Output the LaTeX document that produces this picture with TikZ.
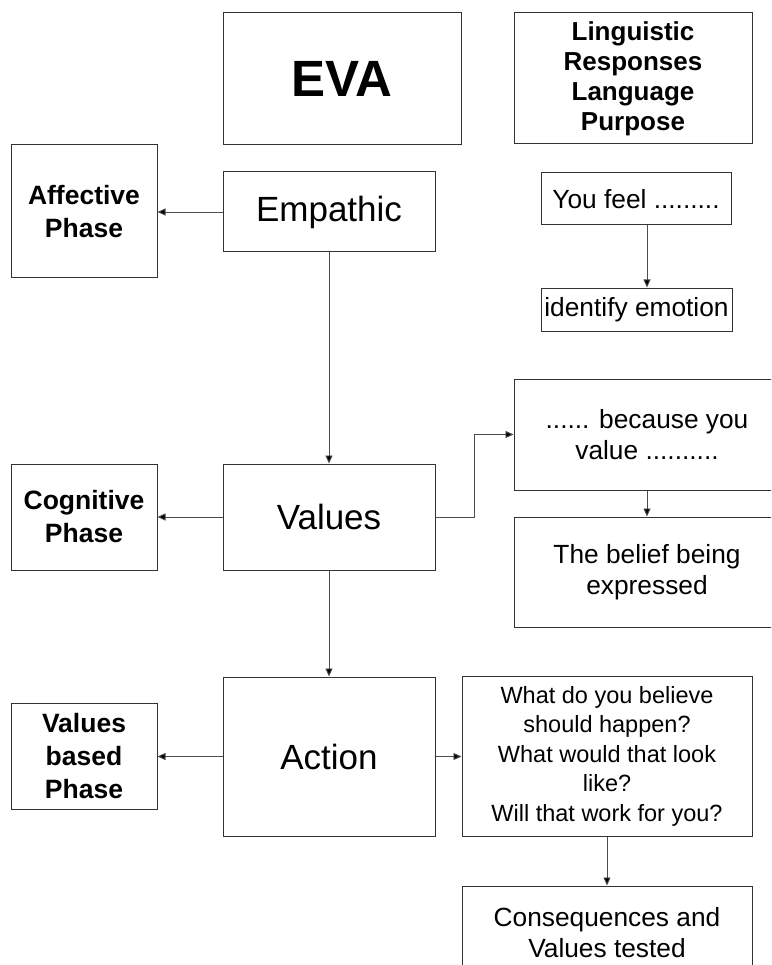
\documentclass[tikz,border=0pt]{standalone}
\usepackage{fontspec}
\setmainfont{Liberation Sans}
\usetikzlibrary{arrows.meta}
\tikzset{
  box/.style={draw=black!80, line width=1pt, inner sep=0pt, align=center, anchor=center},
  phase/.style={box, font=\fontsize{26.5}{33}\selectfont\bfseries, minimum width=146pt},
  big/.style={box, font=\fontsize{35}{40}\selectfont, minimum width=212pt},
  txt/.style={box, font=\fontsize{26.3}{31}\selectfont},
  arr/.style={draw=black!70, line width=0.9pt, -{Triangle[length=8pt,width=7pt,fill=black]}}
}
\begin{document}
\begin{tikzpicture}[x=1pt,y=-1pt]
\useasboundingbox (0,0) rectangle (771,965);
\clip (0,0) rectangle (771,965);
% header
\node[box, minimum width=238pt, minimum height=132pt, font=\fontsize{51}{55}\selectfont\bfseries] (eva) at (342,79) {EVA};
\node[box, minimum width=238pt, minimum height=131pt, font=\fontsize{26}{30}\selectfont\bfseries] (ling) at (633,78.5) {Linguistic\\Responses\\Language\\Purpose};
% row 1
\node[phase, minimum height=133pt] (aff) at (84,211.5) {Affective\\Phase};
\node[big, minimum height=80pt] (emp) at (329,212) {Empathic};
\node[txt, minimum width=190pt, minimum height=52pt] (feel) at (636,199) {You feel .........};
\node[txt, minimum width=191pt, minimum height=43pt] (ident) at (636.5,309.5) {identify emotion};
% row 2
\node[phase, minimum height=106pt] (cog) at (84,517) {Cognitive\\Phase};
\node[big, minimum height=106pt] (val) at (329,517) {Values};
\node[txt, minimum width=266pt, minimum height=111pt] (bec) at (647,434.5) {...... because you\\value ..........};
\node[txt, minimum width=266pt, minimum height=110pt] (bel) at (647,572) {The belief being\\expressed};
% row 3
\node[phase, minimum height=106pt] (vb) at (84,756) {Values\\based\\Phase};
\node[big, minimum height=159pt] (act) at (329,756.5) {Action};
\node[box, minimum width=290pt, minimum height=160pt, font=\fontsize{23.5}{29.5}\selectfont] (what) at (607,756) {What do you believe\\should happen?\\What would that look\\like?\\Will that work for you?};
\node[txt, minimum width=290pt, minimum height=94pt] (cons) at (607,933) {Consequences and\\Values tested};
% connectors
\draw[arr] (emp.west) -- (emp.west -| aff.east);
\draw[arr] (emp.south) -- (val.north);
\draw[arr] (val.west) -- (val.west -| cog.east);
\draw[arr] (val.east) -- ([xshift=39pt]val.east) |- (bec.west);
\draw[arr] (val.south) -- (act.north);
\draw[arr] (act.west) -- (act.west -| vb.east);
\draw[arr] (act.east) -- (act.east -| what.west);
\draw[arr] ([xshift=11pt]feel.south) -- ([xshift=11pt]feel.south |- ident.north);
\draw[arr] (bec.south) -- (bel.north);
\draw[arr] (what.south) -- (cons.north);
\end{tikzpicture}
\end{document}
